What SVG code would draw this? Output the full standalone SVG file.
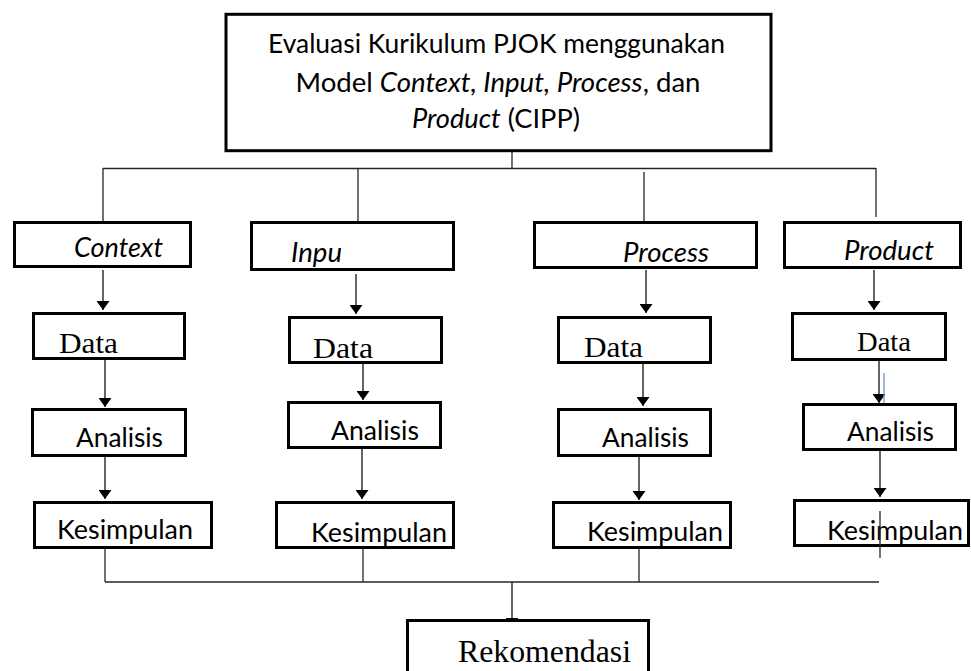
<svg xmlns="http://www.w3.org/2000/svg" width="971" height="671" viewBox="0 0 971 671">
<defs>
<marker id="ah" markerUnits="userSpaceOnUse" markerWidth="9" markerHeight="13" refX="9" refY="6.5" orient="auto">
<path d="M0,0 L9,6.5 L0,13 z" fill="#000"/>
</marker>
<style>
.box{fill:#fff;stroke:#000;stroke-width:3}
.ln{fill:none;stroke:#262626;stroke-width:1.3}
.arr{fill:none;stroke:#111;stroke-width:1.3;marker-end:url(#ah)}
.sans{font-family:Lato,"Open Sans","Liberation Sans",sans-serif;font-size:27.5px;fill:#000}
.it{font-style:italic}
.serif{font-family:"Liberation Serif","Times New Roman",serif;font-size:30px;fill:#000}
</style>
</defs>
<rect width="971" height="671" fill="#fff"/>

<g id="connectors">
<line class="ln" x1="512" y1="151" x2="512" y2="168.5"/>
<line class="ln" x1="103" y1="168.5" x2="876" y2="168.5"/>
<line class="ln" x1="103" y1="168" x2="103" y2="221"/>
<line class="ln" x1="358" y1="168" x2="358" y2="221"/>
<line class="ln" x1="644" y1="172" x2="644" y2="221"/>
<line class="ln" x1="876" y1="168" x2="876" y2="217"/>

<line class="arr" x1="103" y1="270" x2="103" y2="310"/>
<line class="arr" x1="356" y1="274" x2="356" y2="314"/>
<line class="arr" x1="646" y1="270" x2="646" y2="313"/>
<line class="arr" x1="874" y1="270" x2="874" y2="310"/>

<line class="arr" x1="105" y1="360" x2="105" y2="407"/>
<line class="arr" x1="363" y1="364" x2="363" y2="400"/>
<line class="arr" x1="643" y1="364" x2="643" y2="406"/>
<line class="arr" x1="879" y1="361" x2="879" y2="403"/>
<line x1="884" y1="373" x2="884" y2="404" stroke="#6f8fd6" stroke-width="1.3"/>

<line class="arr" x1="105" y1="451" x2="105" y2="499"/>
<line class="arr" x1="362" y1="449" x2="362" y2="499"/>
<line class="arr" x1="639" y1="457" x2="639" y2="500"/>
<line class="arr" x1="880" y1="451" x2="880" y2="497"/>

<line class="ln" x1="105" y1="549" x2="105" y2="582"/>
<line class="ln" x1="363" y1="549" x2="363" y2="582"/>
<line class="ln" x1="639" y1="549" x2="639" y2="582"/>
<line class="ln" x1="105" y1="582" x2="879" y2="582"/>
<line class="arr" x1="512" y1="582" x2="512" y2="627"/>
</g>

<g id="title">
<rect class="box" x="226" y="14.3" width="545" height="136.4"/>
<text class="sans" x="496.5" y="53" text-anchor="middle" textLength="457" lengthAdjust="spacingAndGlyphs">Evaluasi Kurikulum PJOK menggunakan</text>
<text class="sans" x="498" y="92" text-anchor="middle" textLength="405" lengthAdjust="spacingAndGlyphs">Model <tspan class="it">Context, Input, Process</tspan>, dan</text>
<text class="sans" x="496" y="128" text-anchor="middle" textLength="168" lengthAdjust="spacingAndGlyphs"><tspan class="it">Product</tspan> (CIPP)</text>
</g>

<g id="context">
<rect class="box" x="14.5" y="222.5" width="176" height="44"/>
<text class="sans it" x="74" y="257" textLength="89" lengthAdjust="spacingAndGlyphs">Context</text>
</g>
<g id="input">
<rect class="box" x="251.5" y="222.5" width="202" height="47"/>
<text class="sans it" x="291" y="262" textLength="51" lengthAdjust="spacingAndGlyphs">Inpu</text>
</g>
<g id="process">
<rect class="box" x="534.5" y="222.5" width="222" height="45"/>
<text class="sans it" x="623" y="262" textLength="86" lengthAdjust="spacingAndGlyphs">Process</text>
</g>
<g id="product">
<rect class="box" x="784.5" y="222.5" width="176" height="45"/>
<text class="sans it" x="844" y="260" textLength="90" lengthAdjust="spacingAndGlyphs">Product</text>
</g>

<g id="data-context">
<rect class="box" x="33.5" y="313.5" width="151" height="45"/>
<text class="serif" x="59" y="353" textLength="59" lengthAdjust="spacingAndGlyphs">Data</text>
</g>
<g id="data-input">
<rect class="box" x="289.5" y="317.5" width="152" height="45"/>
<text class="serif" x="313" y="358" textLength="60" lengthAdjust="spacingAndGlyphs">Data</text>
</g>
<g id="data-process">
<rect class="box" x="558.5" y="317.5" width="152" height="45"/>
<text class="serif" x="584" y="357" textLength="59" lengthAdjust="spacingAndGlyphs">Data</text>
</g>
<g id="data-product">
<rect class="box" x="792.5" y="313.5" width="153" height="46"/>
<text class="serif" x="857" y="351" textLength="54" lengthAdjust="spacingAndGlyphs" style="font-size:28px">Data</text>
</g>

<g id="analisis-context">
<rect class="box" x="32.5" y="409.5" width="153" height="46"/>
<text class="sans" x="76" y="447" textLength="87" lengthAdjust="spacingAndGlyphs">Analisis</text>
</g>
<g id="analisis-input">
<rect class="box" x="288.5" y="402.5" width="152" height="45"/>
<text class="sans" x="331" y="440" textLength="88" lengthAdjust="spacingAndGlyphs">Analisis</text>
</g>
<g id="analisis-process">
<rect class="box" x="558.5" y="409.5" width="152" height="46"/>
<text class="sans" x="602" y="447" textLength="87" lengthAdjust="spacingAndGlyphs">Analisis</text>
</g>
<g id="analisis-product">
<rect class="box" x="803.5" y="404.5" width="152" height="45"/>
<text class="sans" x="847" y="441" textLength="87" lengthAdjust="spacingAndGlyphs">Analisis</text>
</g>

<g id="kesimpulan-context">
<rect class="box" x="34.5" y="502.5" width="177" height="45"/>
<text class="sans" x="57" y="539" textLength="136" lengthAdjust="spacingAndGlyphs">Kesimpulan</text>
</g>
<g id="kesimpulan-input">
<rect class="box" x="276.5" y="502.5" width="177" height="45"/>
<text class="sans" x="311" y="542" textLength="136" lengthAdjust="spacingAndGlyphs">Kesimpulan</text>
</g>
<g id="kesimpulan-process">
<rect class="box" x="553.5" y="502.5" width="177" height="45"/>
<text class="sans" x="587" y="541" textLength="136" lengthAdjust="spacingAndGlyphs">Kesimpulan</text>
</g>
<g id="kesimpulan-product">
<rect class="box" x="794.5" y="500.5" width="174" height="45"/>
<text class="sans" x="827" y="540" textLength="136" lengthAdjust="spacingAndGlyphs">Kesimpulan</text>
<line class="ln" x1="880" y1="511" x2="880" y2="558"/>
</g>

<g id="rekomendasi">
<rect class="box" x="407.5" y="620.5" width="241" height="70"/>
<text class="serif" x="458" y="662" textLength="173" lengthAdjust="spacingAndGlyphs" style="font-size:31px">Rekomendasi</text>
</g>
</svg>
